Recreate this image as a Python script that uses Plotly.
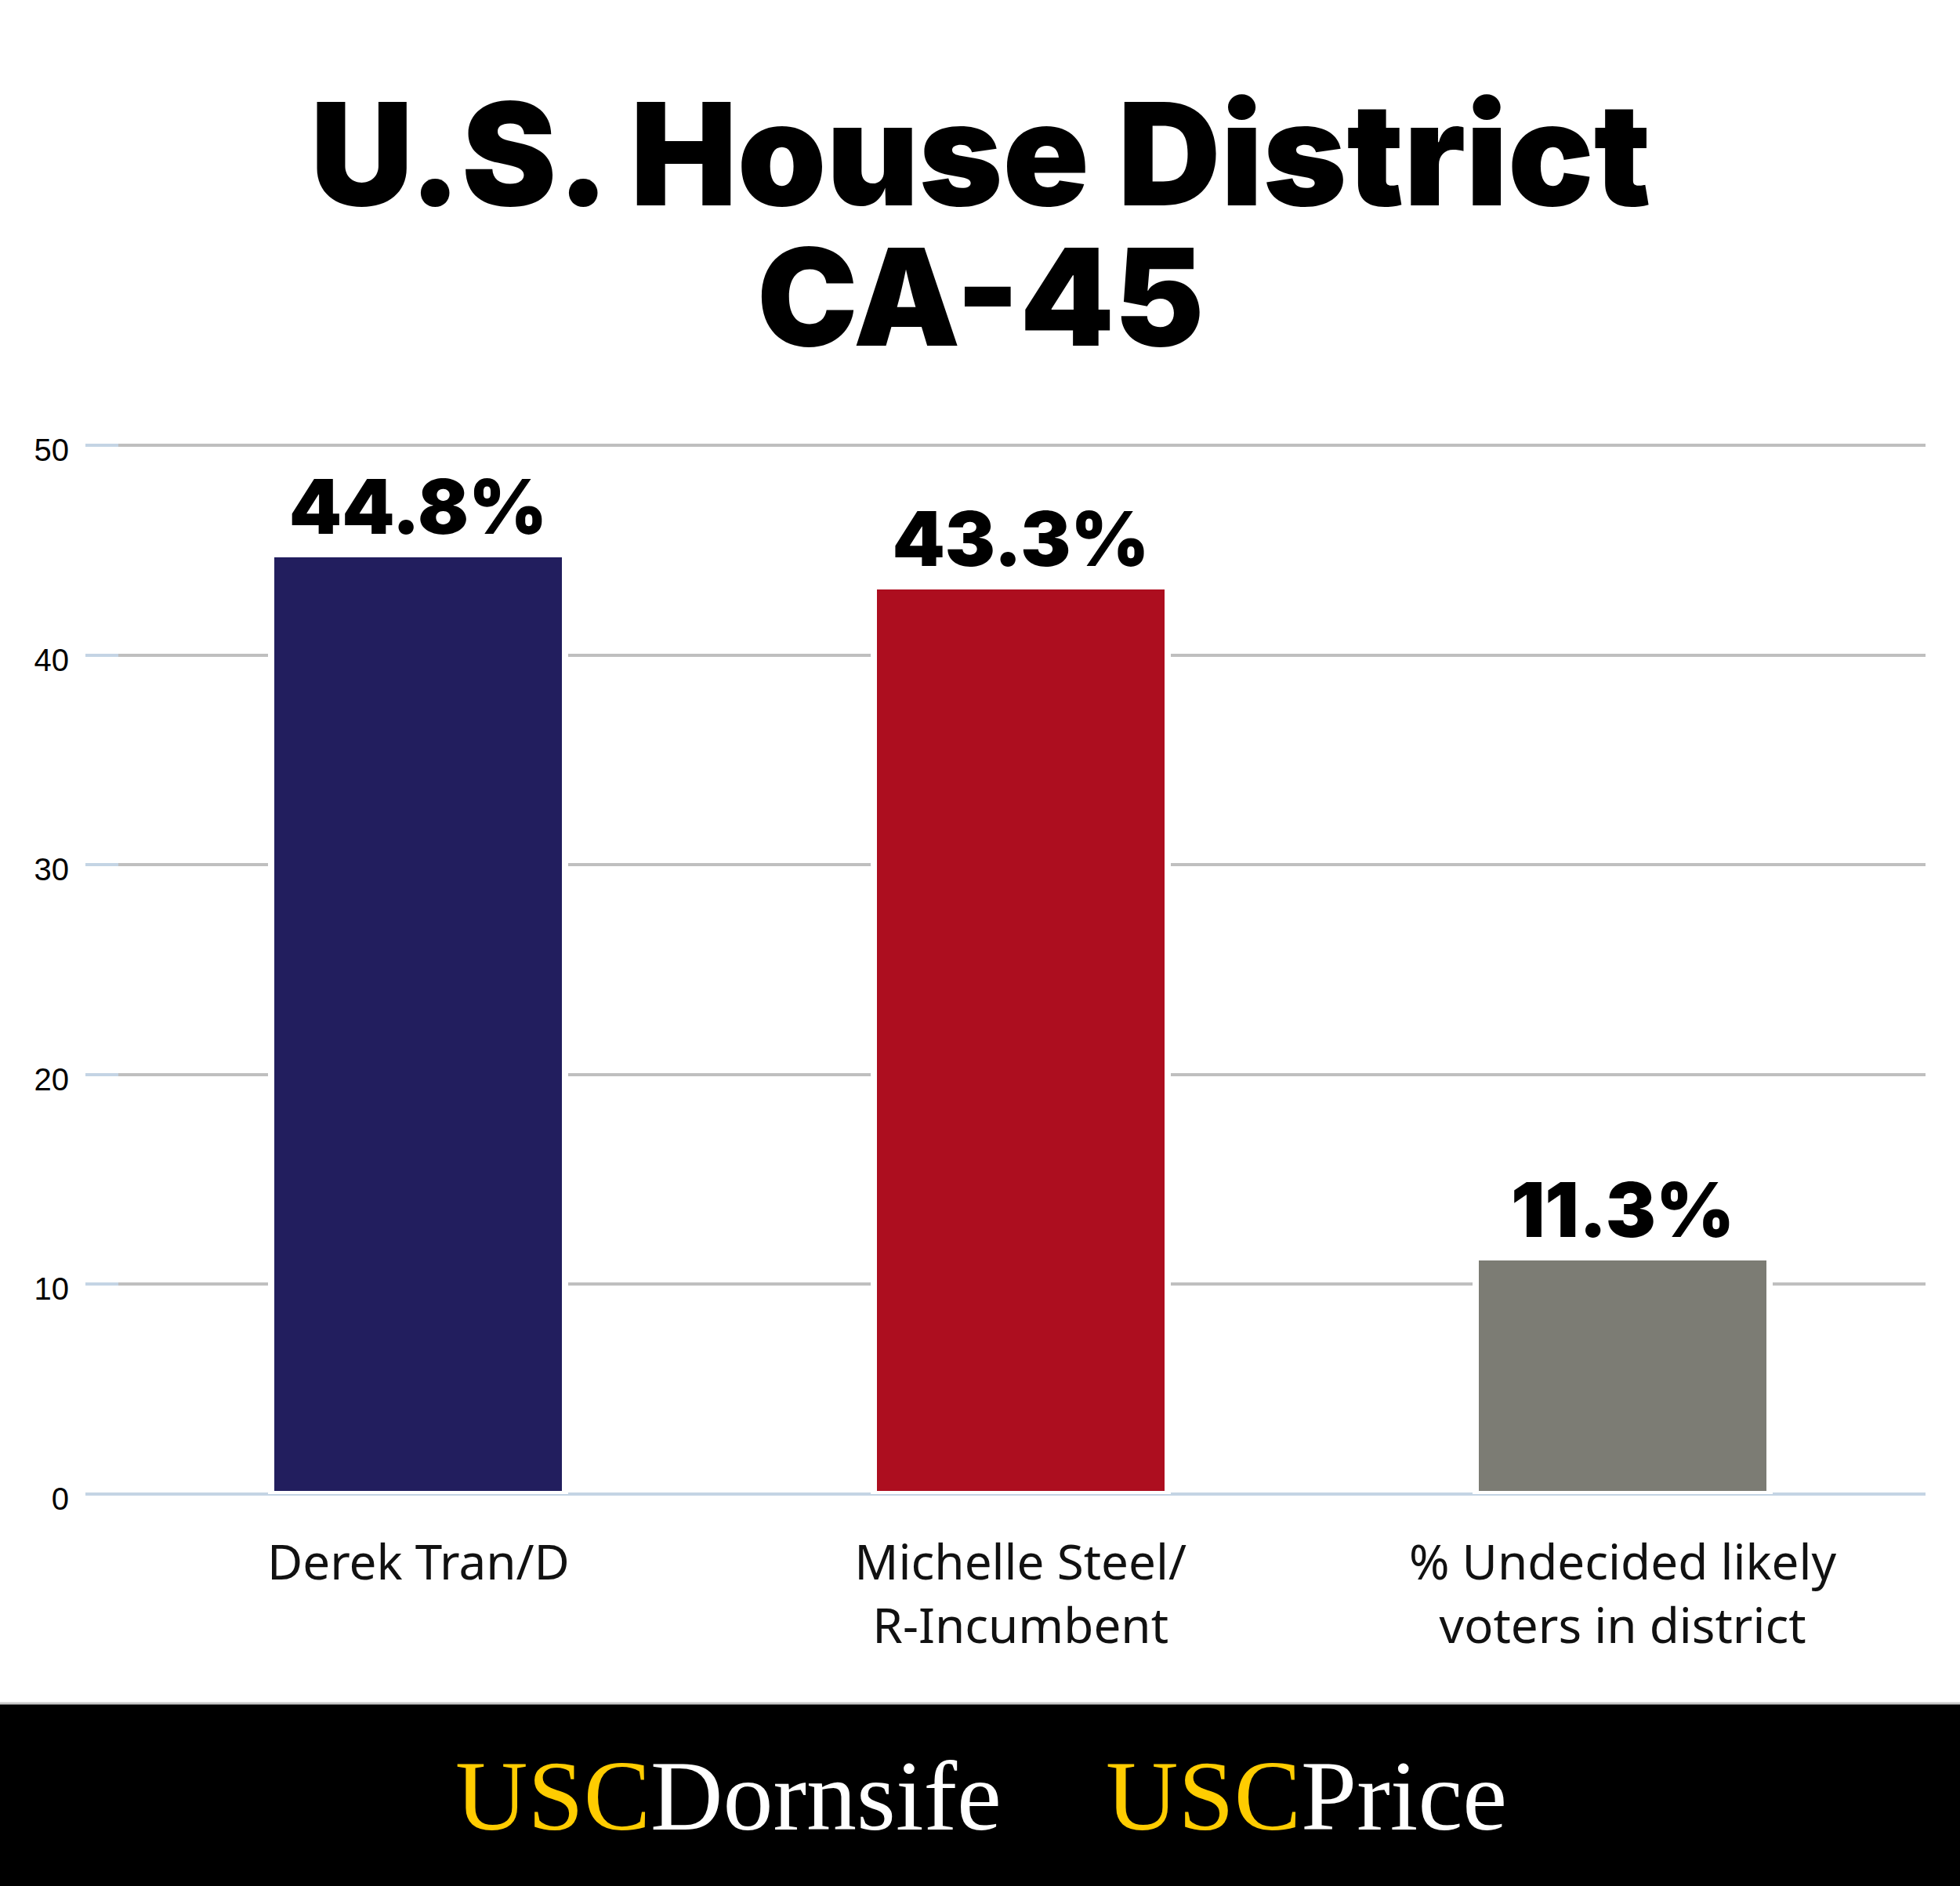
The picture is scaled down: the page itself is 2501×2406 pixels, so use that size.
import plotly.graph_objects as go

# ---- data ----
candidates = ["Derek Tran/D", "Michelle Steel/<br>R-Incumbent", "% Undecided likely<br>voters in district"]
shares = [44.8, 43.3, 11.3]
y_ticks = [0, 10, 20, 30, 40, 50]
title_line1 = "U.S. House District"
title_line2 = "CA-45"

# ---- style ----
bar_colors = ["#221E5E", "#AD0E1F", "#7C7C74"]
W, H = 2501, 2406
ML, MR, MT, MB = 109, 44, 563, 500
plot_h = H - MT - MB

def py(Y):
    """pixel row -> paper y"""
    return (H - MB - Y) / plot_h

def px(X):
    return (X - ML) / (W - ML - MR)

title_text = (f"<span style='font-size:182px'>{title_line1}</span><br>"
              f"<span style='font-size:172px'>{title_line2}</span>")

fig = go.Figure()
fig.add_trace(go.Bar(
    x=candidates, y=shares,
    width=0.488,
    marker=dict(color=bar_colors, line=dict(color="white", width=8)),
    texttemplate="%{y:.1f}%",
    textposition="outside",
    textfont=dict(family="Inter", size=96, color="black", weight=900),
    cliponaxis=False,
    showlegend=False,
))

fig.update_layout(
    width=W, height=H, autosize=False,
    margin=dict(l=ML, r=MR, t=MT, b=MB, pad=0),
    paper_bgcolor="white", plot_bgcolor="white",
    bargap=0,
    xaxis=dict(
        type="category", range=[-0.553, 2.503],
        showgrid=False, showline=False, zeroline=False, ticks="",
        tickfont=dict(family="Noto Sans", size=62, color="#111111"),
        ticklabelstandoff=46,
    ),
    yaxis=dict(
        range=[0, 50.2], tickvals=y_ticks,
        showgrid=True, gridcolor="#BFBFBF", gridwidth=4,
        zeroline=True, zerolinecolor="#C4D4E4", zerolinewidth=4,
        showline=False,
        ticks="inside", ticklen=42, tickwidth=4, tickcolor="#C4D4E4",
        tickfont=dict(family="Liberation Sans, Arial", size=40, color="black"),
        ticklabelstandoff=20, ticklabelshift=6,
    ),
    shapes=[
        dict(type="rect", xref="paper", yref="paper",
             x0=-0.1, x1=1.1, y0=py(2173), y1=py(2430),
             fillcolor="black", line=dict(width=0), layer="above"),
        dict(type="line", xref="paper", yref="paper",
             x0=-0.1, x1=1.1, y0=py(2173), y1=py(2173),
             line=dict(color="#C8C8C8", width=3), layer="above"),
    ],
    annotations=[
        dict(text=title_text, xref="paper", yref="paper",
             x=px(1251), y=py(84), xanchor="center", yanchor="top", align="center",
             showarrow=False, font=dict(family="Inter", size=138, color="black", weight=900)),
        dict(text="<span style='color:#FFCC00'>USC</span>Dornsife", xref="paper", yref="paper",
             x=px(929), y=py(2291), xanchor="center", yanchor="middle",
             showarrow=False, font=dict(family="Liberation Serif", size=128, color="white")),
        dict(text="<span style='color:#FFCC00'>USC</span>Price", xref="paper", yref="paper",
             x=px(1667), y=py(2291), xanchor="center", yanchor="middle",
             showarrow=False, font=dict(family="Liberation Serif", size=128, color="white")),
    ],
)

fig.write_html("out.html")
